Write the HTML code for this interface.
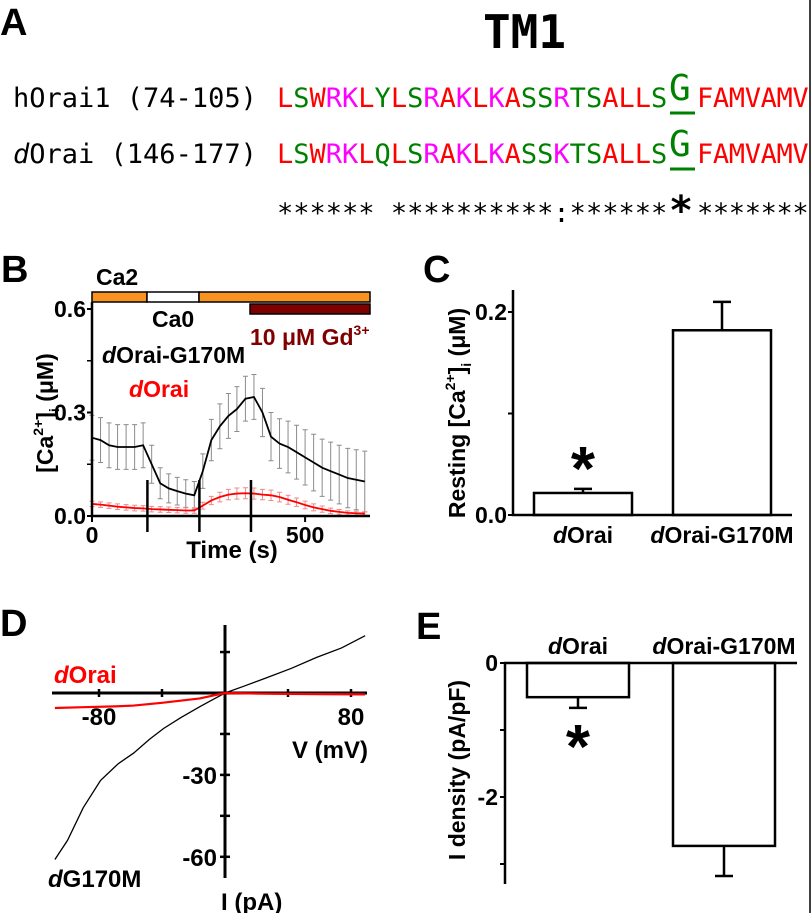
<!DOCTYPE html>
<html><head><meta charset="utf-8"><style>
html,body{margin:0;padding:0;background:#fff;}
svg{display:block;font-family:"Liberation Sans",Arial,sans-serif;}
.mono{font-family:"DejaVu Sans Mono","Liberation Mono",monospace;}
.b{font-weight:bold;}
</style></head><body>
<svg id="fig" width="812" height="913" viewBox="0 0 812 913" xmlns="http://www.w3.org/2000/svg">
<line x1="810" y1="0" x2="810" y2="913" stroke="#000" stroke-width="1.5"/>
<!-- Panel A -->
<g id="panelA">
<text x="0" y="35" class="b" font-size="38">A</text>
<text x="483" y="48" class="mono b" font-size="46" textLength="83" lengthAdjust="spacingAndGlyphs">TM1</text>
<text x="13" y="107" class="mono" font-size="27">hOrai1 (74-105)</text>
<text x="13" y="163" class="mono" font-size="27"><tspan font-style="italic">d</tspan>Orai (146-177)</text>
<g id="seqs"></g>
</g>
<!-- Panel B -->
<g id="panelB">
<text x="1" y="282" class="b" font-size="38">B</text>
<text x="96" y="285" class="b" font-size="23">Ca2</text>
<rect x="92" y="292" width="55" height="10" fill="#f7931e" stroke="#000" stroke-width="1.5"/>
<rect x="147" y="292" width="52" height="10" fill="#fff" stroke="#000" stroke-width="1.5"/>
<rect x="199" y="292" width="171" height="10" fill="#f7931e" stroke="#000" stroke-width="1.5"/>
<rect x="250" y="304" width="120" height="10" fill="#800000" stroke="#000" stroke-width="1.5"/>
<text x="152" y="327" class="b" font-size="23">Ca0</text>
<text x="250" y="345" class="b" font-size="23" fill="#800000">10 μM Gd<tspan font-size="14" dy="-10">3+</tspan></text>
<text x="102" y="363" class="b" font-size="23"><tspan font-style="italic">d</tspan>Orai-G170M</text>
<text x="129" y="397" class="b" font-size="23" fill="#ff0000"><tspan font-style="italic">d</tspan>Orai</text>
<text transform="translate(53,413) rotate(-90)" text-anchor="middle" class="b" font-size="23">[Ca<tspan font-size="14" dy="-10">2+</tspan><tspan dy="10">]</tspan><tspan font-size="14" dy="6">i</tspan><tspan dy="-6"> (μM)</tspan></text>
<text x="232" y="558" text-anchor="middle" class="b" font-size="24">Time (s)</text>
<g id="chartB"></g>
</g>
<!-- Panel C -->
<g id="panelC">
<text x="423" y="282" class="b" font-size="38">C</text>
<text transform="translate(465,413) rotate(-90)" text-anchor="middle" class="b" font-size="23">Resting [Ca<tspan font-size="14" dy="-10">2+</tspan><tspan dy="10">]</tspan><tspan font-size="14" dy="6">i</tspan><tspan dy="-6"> (μM)</tspan></text>
<g id="chartC"></g>
</g>
<!-- Panel D -->
<g id="panelD">
<text x="0" y="636" class="b" font-size="38">D</text>
<text x="54" y="683" class="b" font-size="24" fill="#ff0000"><tspan font-style="italic">d</tspan>Orai</text>
<text x="48" y="887" class="b" font-size="24"><tspan font-style="italic">d</tspan>G170M</text>
<text x="368" y="758" text-anchor="end" class="b" font-size="24">V (mV)</text>
<text x="221" y="910" class="b" font-size="24">I (pA)</text>
<g id="chartD"></g>
</g>
<!-- Panel E -->
<g id="panelE">
<text x="416" y="639" class="b" font-size="38">E</text>
<text transform="translate(465,770) rotate(-90)" text-anchor="middle" class="b" font-size="23">I density (pA/pF)</text>
<g id="chartE"></g>
</g>
</svg>
<script>
// ---------- data ----------
const seqH = "LSWRKLYLSRAKLKASSRTSALLSGFAMVAMV";
const seqD = "LSWRKLQLSRAKLKASSKTSALLSGFAMVAMV";
const consensus = "****** **********:******G*******";

const timesB = [0,20,40,60,80,100,120,140,160,180,200,220,240,260,280,300,320,340,360,380,400,420,440,460,480,500,520,540,560,580,600,620,640];
const meanG170M = [0.227,0.22,0.205,0.2,0.2,0.2,0.205,0.15,0.095,0.08,0.072,0.065,0.06,0.13,0.22,0.26,0.29,0.31,0.34,0.345,0.3,0.23,0.21,0.2,0.185,0.17,0.155,0.14,0.13,0.12,0.11,0.105,0.1];
const semG170M = [0.065,0.065,0.065,0.065,0.065,0.065,0.065,0.055,0.045,0.042,0.04,0.04,0.04,0.05,0.06,0.065,0.065,0.065,0.065,0.065,0.07,0.07,0.072,0.075,0.078,0.08,0.082,0.083,0.084,0.085,0.086,0.087,0.088];
const meanDOrai = [0.035,0.033,0.03,0.027,0.025,0.023,0.022,0.02,0.019,0.018,0.017,0.016,0.016,0.03,0.045,0.055,0.062,0.065,0.066,0.065,0.062,0.06,0.055,0.047,0.04,0.032,0.025,0.02,0.015,0.012,0.009,0.008,0.007];
const semDOrai = [0.008,0.008,0.008,0.008,0.008,0.008,0.008,0.008,0.008,0.008,0.008,0.008,0.008,0.01,0.012,0.014,0.015,0.016,0.016,0.016,0.015,0.015,0.014,0.013,0.012,0.011,0.01,0.009,0.008,0.007,0.006,0.006,0.005];
const markerTimesB = [130,252,373];
const xTicksB = [0,500];
const yTicksB = [0.0,0.3,0.6];

const categoriesC = ["dOrai","dOrai-G170M"];
const valuesC = [0.0217,0.182];
const errC = [0.004,0.028];
const yTicksC = [0.0,0.2];

const voltsG = [-108,-100,-90,-79,-68,-58,-48,-39,-28,-16,-8,0,12,26,42,58,74,89];
const currG = [-61,-54,-42,-32,-26,-22,-17,-13,-9,-5,-2.5,0,2.5,5.5,9,13,16.5,21];
const voltsD = [-108,-90,-70,-58,-40,-16,-8,0,30,60,89];
const currD = [-5.5,-5.2,-4.9,-4.6,-3.6,-2,-1,0,-0.3,-0.4,-0.5];
const xTickLabelsD = [-80,80];
const xTicksD = [-80,-40,40,80];
const yTicksD = [15,-15,-30,-45,-60];
const yTickLabelsD = [-30,-60];

const categoriesE = ["dOrai","dOrai-G170M"];
const valuesE = [-0.51,-2.73];
const errE = [-0.16,-0.45];
const yTicksE = [0,-1,-2,-3];
const yTickLabelsE = [0,-2];

// ---------- helpers ----------
const NS = "http://www.w3.org/2000/svg";
function mk(tag, attrs, parent){const e=document.createElementNS(NS,tag);for(const k in attrs)e.setAttribute(k,attrs[k]);parent.appendChild(e);return e;}

// ---------- Panel A sequences ----------
(function(){
  const g=document.getElementById('seqs');
  const color=c=>("RK".includes(c)?"#ff00ff":("STYHCNGQ".includes(c)?"#008000":("DE".includes(c)?"#0000ff":"#ff0000")));
  const colX=i=> i<24 ? 277+i*16.26 : (i===24 ? 669 : 697+(i-25)*15.9);
  [[seqH,107,'horai1'],[seqD,163,'dorai']].forEach(([s,y,nm])=>{
    for(let i=0;i<s.length;i++){
      const big=i===24;
      const t=mk('text',{x:colX(i),y:big?y-7:y,'font-size':big?36:27,fill:color(s[i]),class:'mono'},g);
      
      
      t.textContent=s[i];
      if(big){const u=mk('line',{x1:670,x2:695,y1:y+6,y2:y+6,stroke:'#008000','stroke-width':3},g);
        
        }
    }
  });
  for(let i=0;i<consensus.length;i++){
    const c=consensus[i]; if(c===' ')continue;
    const big=i===24;
    const t=mk('text',{x:colX(i),y:big?224:222,'font-size':big?40:27,class:'mono'+(big?' b':'')},g);
    
    
    t.textContent=big?'*':c;
  }
})();

// ---------- Panel B ----------
(function(){
  const g=document.getElementById('chartB');
  const xB=t=>92+t*0.4262, yB=v=>516-v*345;
  [[meanG170M,semG170M,'#8c8c8c','g170m'],[meanDOrai,semDOrai,'#f08a8a','dorai']].forEach(([m,s,col,nm])=>{
    timesB.forEach((t,i)=>{
      const x=xB(t);
      const e=mk('path',{d:`M${x},${yB(m[i]-s[i])}V${yB(m[i]+s[i])}M${x-2.5},${yB(m[i]+s[i])}h5M${x-2.5},${yB(m[i]-s[i])}h5`,stroke:col,'stroke-width':1,fill:'none'},g);
      
      
    });
  });
  [[meanG170M,'#000','g170m-line'],[meanDOrai,'#ff0000','dorai-line']].forEach(([m,col,nm])=>{
    const p=mk('polyline',{points:timesB.map((t,i)=>xB(t)+','+yB(m[i])).join(' '),fill:'none',stroke:col,'stroke-width':1.8},g);
    
    
  });
  const ax=mk('path',{d:`M92,${yB(0.62)}V516H370`,stroke:'#000','stroke-width':2.5,fill:'none'},g);
  
  
  yTicksB.forEach(v=>{
    const y=yB(v);
    mk('line',{x1:87,x2:92,y1:y,y2:y,stroke:'#000','stroke-width':2},g);
    const t=mk('text',{x:86,y:y+8,'text-anchor':'end','font-size':23,class:'b'},g);
    
    
    t.textContent=v.toFixed(1);
  });
  mk('line',{x1:87,x2:92,y1:yB(0.15),y2:yB(0.15),stroke:'#000','stroke-width':1.5},g);
  mk('line',{x1:87,x2:92,y1:yB(0.45),y2:yB(0.45),stroke:'#000','stroke-width':1.5},g);
  xTicksB.forEach(v=>{
    const x=xB(v);
    mk('line',{x1:x,x2:x,y1:516,y2:522,stroke:'#000','stroke-width':2},g);
    const t=mk('text',{x:x,y:543,'text-anchor':'middle','font-size':23,class:'b'},g);
    
    
    t.textContent=v;
  });
  markerTimesB.forEach(t=>{
    const m=mk('line',{x1:xB(t),x2:xB(t),y1:480,y2:532,stroke:'#000','stroke-width':2.5},g);
    
    
  });
})();

// ---------- Panel C ----------
(function(){
  const g=document.getElementById('chartC');
  const yC=v=>515-v*1015;
  const cx=[583,722], w=98;
  valuesC.forEach((v,i)=>{
    const r=mk('rect',{x:cx[i]-w/2,y:yC(v),width:w,height:515-yC(v),fill:'#fff',stroke:'#000','stroke-width':2.5},g);
    
    
    const e=mk('path',{d:`M${cx[i]},${yC(v)}V${yC(v+errC[i])}M${cx[i]-9},${yC(v+errC[i])}h18`,stroke:'#000','stroke-width':2.5,fill:'none'},g);
    
    
    const t=mk('text',{x:cx[i],y:543,'text-anchor':'middle','font-size':23,class:'b'},g);
    
    
    t.innerHTML='<tspan font-style="italic">d</tspan>'+categoriesC[i].slice(1);
  });
  const s=mk('text',{x:cx[0],y:yC(valuesC[0]+errC[0])+1,'text-anchor':'middle','font-size':62,class:'b'},g);
  
  
  s.textContent='*';
  const ax=mk('path',{d:'M513,290V515H792',stroke:'#000','stroke-width':2.5,fill:'none'},g);
  
  
  [0,0.1,0.2].forEach(v=>mk('line',{x1:508,x2:513,y1:yC(v),y2:yC(v),stroke:'#000','stroke-width':2},g));
  yTicksC.forEach(v=>{
    const t=mk('text',{x:507,y:yC(v)+8,'text-anchor':'end','font-size':23,class:'b'},g);
    
    
    t.textContent=v.toFixed(1);
  });
})();

// ---------- Panel D ----------
(function(){
  const g=document.getElementById('chartD');
  const xD=v=>225+v*1.575, yD=i=>693-i*2.73;
  const ax=mk('path',{d:`M52,693H367M225,625V878`,stroke:'#000','stroke-width':3,fill:'none'},g);
  
  
  xTicksD.forEach(v=>mk('line',{x1:xD(v),x2:xD(v),y1:689,y2:697,stroke:'#000','stroke-width':2.5},g));
  yTicksD.forEach(v=>mk('line',{x1:220,x2:230,y1:yD(v),y2:yD(v),stroke:'#000','stroke-width':2.5},g));
  xTickLabelsD.forEach(v=>{
    const t=mk('text',{x:xD(v),y:725,'text-anchor':'middle','font-size':24,class:'b'},g);
    
    
    t.textContent=v;
  });
  yTickLabelsD.forEach(v=>{
    const t=mk('text',{x:217,y:yD(v)+9,'text-anchor':'end','font-size':24,class:'b'},g);
    
    
    t.textContent=v;
  });
  const pg=mk('polyline',{points:voltsG.map((v,i)=>xD(v)+','+yD(currG[i])).join(' '),fill:'none',stroke:'#000','stroke-width':1.3},g);
  
  
  const pr=mk('polyline',{points:voltsD.map((v,i)=>xD(v)+','+yD(currD[i])).join(' '),fill:'none',stroke:'#ff0000','stroke-width':2.2},g);
  
  
})();

// ---------- Panel E ----------
(function(){
  const g=document.getElementById('chartE');
  const yE=v=>663-v*67;
  const cx=[578,724], w=102;
  valuesE.forEach((v,i)=>{
    const r=mk('rect',{x:cx[i]-w/2,y:663,width:w,height:yE(v)-663,fill:'#fff',stroke:'#000','stroke-width':2.5},g);
    
    
    const e=mk('path',{d:`M${cx[i]},${yE(v)}V${yE(v+errE[i])}M${cx[i]-9},${yE(v+errE[i])}h18`,stroke:'#000','stroke-width':2.5,fill:'none'},g);
    
    
    const t=mk('text',{x:cx[i],y:654,'text-anchor':'middle','font-size':23,class:'b'},g);
    
    
    t.innerHTML='<tspan font-style="italic">d</tspan>'+categoriesE[i].slice(1);
  });
  const s=mk('text',{x:cx[0],y:yE(valuesE[0]+errE[0])+60,'text-anchor':'middle','font-size':62,class:'b'},g);
  
  
  s.textContent='*';
  const ax=mk('path',{d:'M505,884V663H797',stroke:'#000','stroke-width':2.5,fill:'none'},g);
  
  
  yTicksE.forEach(v=>mk('line',{x1:500,x2:505,y1:yE(v),y2:yE(v),stroke:'#000','stroke-width':2},g));
  yTickLabelsE.forEach(v=>{
    const t=mk('text',{x:498,y:yE(v)+8,'text-anchor':'end','font-size':23,class:'b'},g);
    
    
    t.textContent=v;
  });
})();
</script>
</body></html>
